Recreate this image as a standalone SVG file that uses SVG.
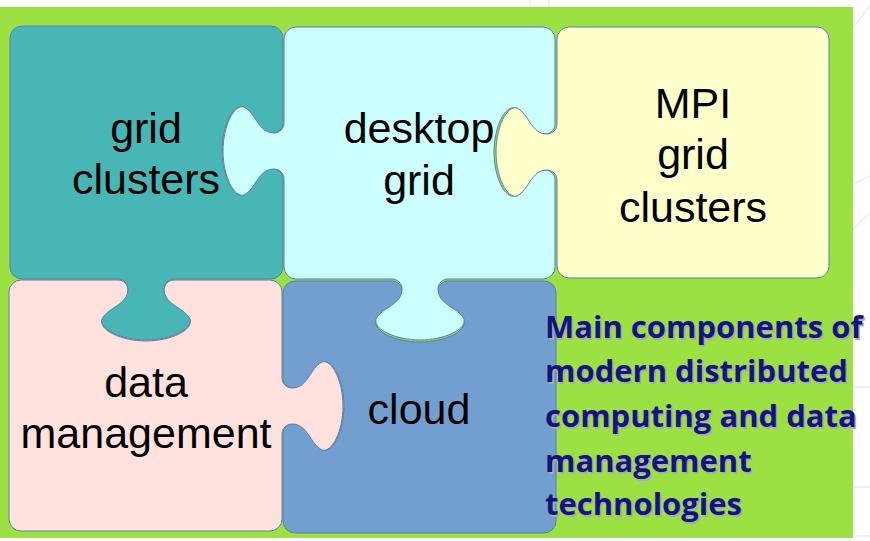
<svg xmlns="http://www.w3.org/2000/svg" width="870" height="541" viewBox="0 0 870 541">
  <style>
    .piece { stroke: #5a7fb0; stroke-width: 1; stroke-linejoin: round; }
    .label { font-family: "Liberation Sans", Arial, sans-serif; font-size: 43px; fill: #000; text-anchor: middle; }
    .note { font-family: "Open Sans", "Liberation Sans", sans-serif; font-weight: bold; font-size: 31px; }
    .note-shadow { fill: #a8a8c0; }
    .note-text { fill: #14147a; }
    .faint { fill: none; stroke: #ececec; stroke-width: 1.5; }
  </style>

  <!-- page background with faint slide decoration -->
  <rect x="0" y="0" width="870" height="541" fill="#ffffff"/>
  <g id="backdrop-lines">
    <path class="faint" d="M530,0 V7 M549,0 V7"/>
    <path class="faint" d="M853,28 C860,20 866,12 870,6"/>
    <path class="faint" d="M853,185 C860,180 865,178 870,176 M853,230 C860,222 866,216 870,214"/>
    <path class="faint" d="M853,387 H870 M853,487 H870 M853,536 H870"/>
  </g>

  <!-- green board -->
  <rect id="board" x="0" y="7" width="853" height="531" fill="#9be142"/>

  <!-- cloud (drawn first so neighbouring tabs sit on top) -->
  <g id="piece-cloud">
    <path class="piece" fill="#729fcf" d="M295,281 H392
      c5.5,0 10,4.5 10,10 c0,16 -20,18 -26,30 c-3,10 19,21 44,21 c25,0 47,-11 44,-21 c-6,-12 -26,-14 -26,-30 c0,-5.5 4.5,-10 10,-10
      H544 A12,12 0 0 1 556,293 V521 A12,12 0 0 1 544,533 H295 A12,12 0 0 1 283,521 V434
      c0,-5.5 4.5,-10 10,-10 c16,0 18,20 30,26 c10,3 21,-19 21,-44 c0,-25 -11,-47 -21,-44 c-12,6 -14,26 -30,26 c-5.5,0 -10,-4.5 -10,-10
      V293 A12,12 0 0 1 295,281 Z"/>
    <text class="label" x="419" y="424">cloud</text>
  </g>

  <!-- data management -->
  <g id="piece-data-management">
    <path class="piece" fill="#ffe2de" d="M21,280 H118
      c5.5,0 10,4.5 10,10 c0,16 -20,18 -26,30 c-3,10 19,21 44,21 c25,0 47,-11 44,-21 c-6,-12 -26,-14 -26,-30 c0,-5.5 4.5,-10 10,-10
      H270 A12,12 0 0 1 282,292 V378
      c0,5.5 4.5,10 10,10 c16,0 18,-20 30,-26 c10,-3 21,19 21,44 c0,25 -11,47 -21,44 c-12,-6 -14,-26 -30,-26 c-5.5,0 -10,4.5 -10,10
      V519 A12,12 0 0 1 270,531 H21 A12,12 0 0 1 9,519 V292 A12,12 0 0 1 21,280 Z"/>
    <text class="label" x="146" y="397">data</text>
    <text class="label" x="146" y="448">management</text>
  </g>

  <!-- grid clusters -->
  <g id="piece-grid-clusters">
    <path class="piece" fill="#47b6b5" d="M22,26 H271 A12,12 0 0 1 283,38 V123
      c0,5.5 -4.5,10 -10,10 c-16,0 -18,-20 -30,-26 c-10,-3 -21,19 -21,44 c0,25 11,47 21,44 c12,-6 14,-26 30,-26 c5.5,0 10,4.5 10,10
      V267 A12,12 0 0 1 271,279 H174
      c-5.5,0 -10,4.5 -10,10 c0,16 20,18 26,30 c3,10 -19,21 -44,21 c-25,0 -47,-11 -44,-21 c6,-12 26,-14 26,-30 c0,-5.5 -4.5,-10 -10,-10
      H22 A12,12 0 0 1 10,267 V38 A12,12 0 0 1 22,26 Z"/>
    <text class="label" x="146" y="143">grid</text>
    <text class="label" x="146" y="194">clusters</text>
  </g>

  <!-- desktop grid -->
  <g id="piece-desktop-grid">
    <path class="piece" fill="#ccffff" d="M296,27 H543 A12,12 0 0 1 555,39 V124
      c0,5.5 -4.5,10 -10,10 c-16,0 -18,-20 -30,-26 c-10,-3 -21,19 -21,44 c0,25 11,47 21,44 c12,-6 14,-26 30,-26 c5.5,0 10,4.5 10,10
      V267 A12,12 0 0 1 543,279 H448
      c-5.5,0 -10,4.5 -10,10 c0,16 20,18 26,30 c3,10 -19,21 -44,21 c-25,0 -47,-11 -44,-21 c6,-12 26,-14 26,-30 c0,-5.5 -4.5,-10 -10,-10
      H296 A12,12 0 0 1 284,267 V179
      c0,-5.5 -4.5,-10 -10,-10 c-16,0 -18,20 -30,26 c-10,3 -21,-19 -21,-44 c0,-25 11,-47 21,-44 c12,6 14,26 30,26 c5.5,0 10,-4.5 10,-10
      V39 A12,12 0 0 1 296,27 Z"/>
    <text class="label" x="419" y="143">desktop</text>
    <text class="label" x="419" y="195">grid</text>
  </g>

  <!-- MPI grid clusters -->
  <g id="piece-mpi-grid-clusters">
    <path class="piece" fill="#ffffcc" d="M569,27 H817 A12,12 0 0 1 829,39 V266 A12,12 0 0 1 817,278 H569 A12,12 0 0 1 557,266 V180
      c0,-5.5 -4.5,-10 -10,-10 c-16,0 -18,20 -30,26 c-10,3 -21,-19 -21,-44 c0,-25 11,-47 21,-44 c12,6 14,26 30,26 c5.5,0 10,-4.5 10,-10
      V39 A12,12 0 0 1 569,27 Z"/>
    <text class="label" x="693" y="118">MPI</text>
    <text class="label" x="693" y="169">grid</text>
    <text class="label" x="693" y="222">clusters</text>
  </g>

  <!-- caption -->
  <g id="caption" class="note">
    <g class="note-shadow" transform="translate(1.5,1.5)">
      <text x="545" y="338">Main components of</text>
      <text x="545" y="382">modern distributed</text>
      <text x="545" y="427">computing and data</text>
      <text x="545" y="472">management</text>
      <text x="545" y="515">technologies</text>
    </g>
    <g class="note-text">
      <text x="545" y="338">Main components of</text>
      <text x="545" y="382">modern distributed</text>
      <text x="545" y="427">computing and data</text>
      <text x="545" y="472">management</text>
      <text x="545" y="515">technologies</text>
    </g>
  </g>
</svg>
